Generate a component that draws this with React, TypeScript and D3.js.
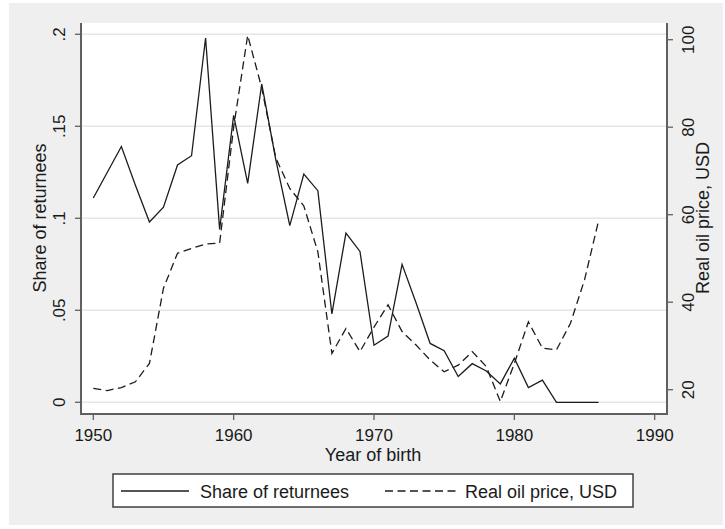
import React from "react";
import * as d3 from "d3";

const years = [1950,1951,1952,1953,1954,1955,1956,1957,1958,1959,1960,1961,1962,1963,1964,1965,1966,1967,1968,1969,1970,1971,1972,1973,1974,1975,1976,1977,1978,1979,1980,1981,1982,1983,1984,1985,1986];
const shareReturnees = [0.111,0.125,0.139,0.118,0.098,0.106,0.129,0.134,0.198,0.094,0.156,0.119,0.173,0.132,0.096,0.124,0.115,0.048,0.092,0.082,0.031,0.036,0.075,0.054,0.032,0.028,0.014,0.021,0.017,0.010,0.024,0.008,0.012,0,0,0,0];
const oilPrice = [20.3,19.8,20.5,21.8,26.0,43.2,51.2,52.3,53.3,53.5,80,101,89,73,66,62,51.5,28.3,34.0,28.7,34.3,39.4,33.3,30.2,26.8,24.1,25.6,28.7,25.3,17.3,26,35.5,29.5,29.1,35.2,45.1,58.6];
const xTicks = [1950,1960,1970,1980,1990];
const leftTicks = [0,0.05,0.1,0.15,0.2];
const leftTickLabels = ["0",".05",".1",".15",".2"];
const rightTicks = [20,40,60,80,100];
const legendLabels = ["Share of returnees","Real oil price, USD"];

export default function App() {
  const W = 725, H = 529;
  const plot = { l: 81, r: 667, t: 23, b: 414 };
  const x = d3.scaleLinear().domain([1950, 1990]).range([93.3, 654.7]);
  const yL = d3.scaleLinear().domain([0, 0.2]).range([402.3, 34.3]);
  const yR = d3.scaleLinear().domain([20, 100]).range([389.7, 39.7]);
  const font = "'Liberation Sans', Arial, sans-serif";
  const txt = "#1a1a1a";
  const axisCol = "#606060";

  const shareLine = d3.line<number>().x((_, i) => x(years[i])).y((d) => yL(d))(shareReturnees) || "";
  const oilLine = d3.line<number>().x((_, i) => x(years[i])).y((d) => yR(d))(oilPrice) || "";

  return (
    <svg width={W} height={H} style={{ position: "absolute", left: 0, top: 0 }} fontFamily={font}>
      <rect x={0} y={0} width={W} height={H} fill="#ffffff" />
      <rect x={9} y={3} width={714} height={522} fill="#efefef" />
      <rect x={plot.l} y={plot.t} width={plot.r - plot.l} height={plot.b - plot.t} fill="#ffffff" />
      {leftTicks.map((t) => (
        <line key={"g" + t} x1={plot.l} x2={plot.r} y1={yL(t)} y2={yL(t)} stroke="#e6e6e6" strokeWidth={1.5} />
      ))}
      <path d={oilLine} fill="none" stroke="#1c1c1c" strokeWidth={1.3} strokeDasharray="8,4.5" />
      <path d={shareLine} fill="none" stroke="#1c1c1c" strokeWidth={1.3} />
      <line x1={plot.l} x2={plot.l} y1={plot.t} y2={plot.b + 1} stroke={axisCol} strokeWidth={2} />
      <line x1={plot.r} x2={plot.r} y1={plot.t} y2={plot.b + 1} stroke={axisCol} strokeWidth={2} />
      <line x1={plot.l - 1} x2={plot.r + 1} y1={plot.b} y2={plot.b} stroke={axisCol} strokeWidth={2} />
      {leftTicks.map((t, i) => (
        <g key={"l" + t}>
          <line x1={plot.l - 6} x2={plot.l} y1={yL(t)} y2={yL(t)} stroke={axisCol} strokeWidth={1.3} />
          <text transform={`translate(65,${yL(t)}) rotate(-90)`} textAnchor="middle" fontSize={17} fill={txt}>
            {leftTickLabels[i]}
          </text>
        </g>
      ))}
      {rightTicks.map((t) => (
        <g key={"r" + t}>
          <line x1={plot.r} x2={plot.r + 6} y1={yR(t)} y2={yR(t)} stroke={axisCol} strokeWidth={1.3} />
          <text transform={`translate(693.5,${yR(t)}) rotate(-90)`} textAnchor="middle" fontSize={17} fill={txt}>
            {t}
          </text>
        </g>
      ))}
      {xTicks.map((t) => (
        <g key={"x" + t}>
          <line x1={x(t)} x2={x(t)} y1={plot.b} y2={plot.b + 6} stroke={axisCol} strokeWidth={1.3} />
          <text x={x(t)} y={441} textAnchor="middle" fontSize={17} fill={txt}>
            {t}
          </text>
        </g>
      ))}
      <text transform="translate(46,218) rotate(-90)" textAnchor="middle" fontSize={18} fill={txt}>
        Share of returnees
      </text>
      <text transform="translate(709,218) rotate(-90)" textAnchor="middle" fontSize={18} fill={txt}>
        Real oil price, USD
      </text>
      <text x={373} y={461} textAnchor="middle" fontSize={18} fill={txt}>
        Year of birth
      </text>
      <rect x={113} y={474} width={520} height={33} fill="#ffffff" stroke="#404040" strokeWidth={1.5} />
      <line x1={121} x2={189} y1={491} y2={491} stroke="#1c1c1c" strokeWidth={1.3} />
      <text x={200} y={498} fontSize={18} fill={txt}>{legendLabels[0]}</text>
      <line x1={385} x2={456} y1={491} y2={491} stroke="#1c1c1c" strokeWidth={1.3} strokeDasharray="8,4.5" />
      <text x={465} y={498} fontSize={18} fill={txt}>{legendLabels[1]}</text>
    </svg>
  );
}
